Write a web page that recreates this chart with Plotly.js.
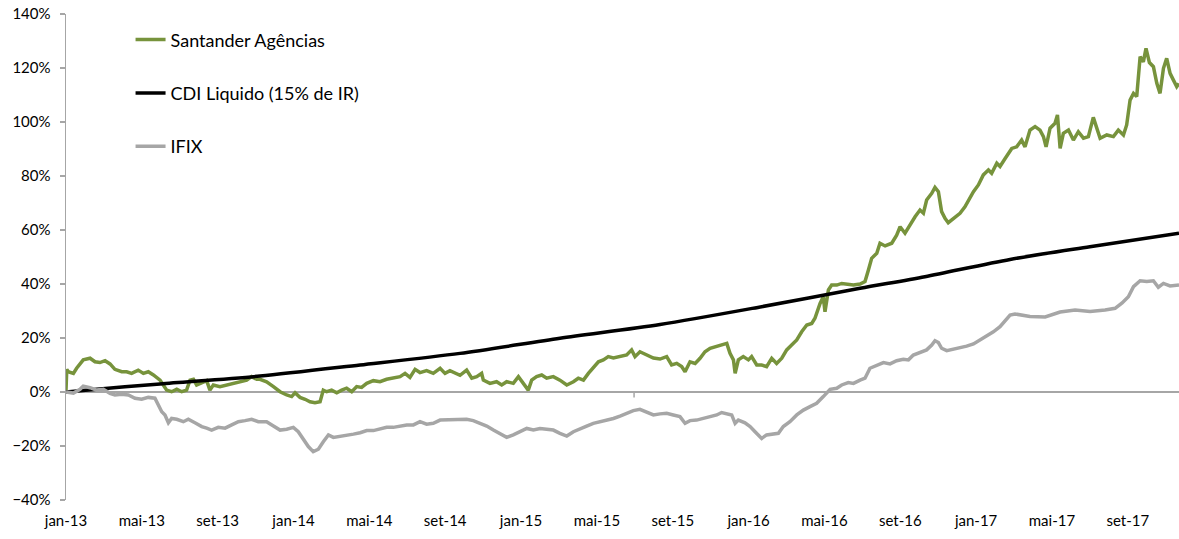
<!DOCTYPE html>
<html>
<head>
<meta charset="utf-8">
<script src="https://cdn.plot.ly/plotly-3.0.1.min.js"></script>
<style>html,body{margin:0;padding:0;background:#fff;}#chart{width:1179px;height:539px;}</style>
</head>
<body>
<div id="chart"></div>
<script>
// x = months elapsed since the start of jan-13
const tickMonths = [0,4,8,12,16,20,24,28,32,36,40,44,48,52,56];
const tickLabels = ['jan-13','mai-13','set-13','jan-14','mai-14','set-14','jan-15','mai-15','set-15','jan-16','mai-16','set-16','jan-17','mai-17','set-17'];

const santanderMonths = [0,0.04,0.12,0.39,0.56,0.91,1.27,1.53,1.79,2.06,2.32,2.58,2.94,3.20,3.46,3.81,4.08,4.34,4.61,4.96,5.13,5.31,5.57,5.84,6.10,6.36,6.54,6.72,6.89,7.16,7.42,7.59,7.77,8.12,8.47,8.83,9.18,9.53,9.79,10.06,
10.23,10.58,10.94,11.29,11.64,11.90,12.08,12.34,12.61,12.87,13.13,13.40,13.57,13.75,14.01,14.28,14.54,14.80,15.07,15.33,15.59,15.86,16.21,16.56,16.91,17.26,17.62,17.88,18.14,18.41,18.67,19.02,19.37,19.73,19.99,20.25,20.52,
20.78,21.13,21.40,21.66,21.92,22.01,22.36,22.71,22.98,23.24,23.59,23.86,24.12,24.38,24.56,24.82,25.09,25.35,25.70,26.05,26.41,26.76,27.02,27.29,27.55,27.81,28.08,28.34,28.60,28.87,29.22,29.57,29.83,30.01,30.27,30.63,30.98,
31.33,31.68,31.94,32.21,32.47,32.65,32.91,33.18,33.44,33.70,33.97,34.32,34.58,34.85,35.02,35.20,35.29,35.46,35.72,35.99,36.16,36.43,36.69,36.95,37.22,37.48,37.75,38.01,38.27,38.54,38.80,39.07,39.33,39.50,39.77,39.94,40.03,40.21,40.38,40.65,40.91,41.17,41.53,
41.88,42.14,42.32,42.49,42.76,42.93,43.20,43.55,43.81,43.99,44.25,44.51,44.78,45.04,45.22,45.39,45.66,45.83,46.01,46.18,46.36,46.53,46.80,47.15,47.41,47.59,47.86,48.12,48.38,48.65,48.82,49.09,
49.26,49.53,49.88,50.14,50.40,50.58,50.84,51.11,51.37,51.55,51.69,51.90,52.16,52.29,52.43,52.60,52.87,53.13,53.39,53.66,53.92,54.18,54.36,54.54,54.89,55.24,55.50,55.77,55.94,56.12,56.30,56.47,56.65,56.82,56.96,57.14,57.35,57.53,57.70,57.88,58.05,58.23,58.40,58.58,58.70];
const santanderValues = [0.5,8.4,7.5,6.9,8.8,11.9,12.5,11.2,10.9,11.6,10.4,8.4,7.5,7.5,6.9,8.1,6.9,7.5,6.3,4.4,2.6,0.7,0.1,1.0,0.1,0.7,4.4,4.7,2.6,3.5,4.2,0.7,2.6,2.0,2.6,3.5,3.8,4.4,5.7,4.7,
4.7,3.8,2.0,0.1,-1.1,-1.7,-0.3,-2.0,-2.7,-3.6,-4.0,-3.6,0.7,0.1,0.7,-0.3,0.7,1.4,0.1,2.0,1.7,3.2,4.2,3.8,4.7,5.1,5.7,6.9,5.4,8.4,7.2,7.9,6.9,8.8,6.9,7.9,6.9,
6.2,8.1,5.1,5.7,6.9,4.4,3.2,3.8,2.6,3.8,3.2,5.7,3.2,0.7,4.4,5.7,6.3,5.1,5.7,4.4,2.6,3.8,5.1,4.4,6.9,8.8,11.2,11.9,13.1,12.6,13.1,13.7,15.6,13.1,14.9,13.7,12.6,
12.2,13.1,10.0,10.6,9.4,7.5,11.2,10.6,12.5,14.9,16.2,16.8,17.4,18.0,14.3,11.9,6.9,11.9,13.1,11.9,13.1,10.0,10.0,9.4,12.5,10.6,12.5,15.6,17.4,19.3,22.3,24.8,25.4,27.3,32.8,35.3,29.7,37.8,39.6,39.6,40.2,40.0,39.6,
40.0,40.9,45.2,49.5,51.4,55.1,54.1,55.1,58.1,61.2,58.8,61.9,64.9,67.4,66.2,71.1,73.6,75.8,74.2,66.8,64.3,62.7,64.3,66.2,68.6,71.1,74.2,76.7,80.4,82.2,81.0,84.7,
83.5,86.5,90.2,90.8,93.3,90.8,97.0,98.3,97.0,94.6,90.8,97.7,99.5,102.6,90.2,95.8,97.0,93.3,96.4,94.0,94.6,101.7,98.3,94.0,95.2,94.6,97.0,95.2,98.9,108.1,110.6,109.4,124.2,122.3,127.3,122.0,120.5,114.3,110.6,119.9,123.6,118.0,115.6,113.1,114.3];

const cdiMonths = [0,0.74,4.96,10.23,15.51,20.78,26.05,31.33,36.69,41.88,45.30,49.79,54.00,58.70];
const cdiValues = [0,0.5,3.0,5.9,10.0,14.3,19.9,25.0,31.6,38.4,42.7,49.1,53.8,58.8];

const ifixMonths = [0,0.39,0.74,0.91,1.27,1.62,1.97,2.32,2.58,2.94,3.29,3.64,3.99,4.34,4.69,4.87,5.05,5.22,5.40,5.57,5.84,6.19,6.45,6.80,7.16,7.42,7.68,8.03,8.39,8.74,9.09,9.44,9.79,10.14,
10.58,10.94,11.29,11.64,11.99,12.25,12.52,12.78,13.04,13.31,13.57,13.84,14.10,14.45,14.80,15.16,15.51,15.86,16.21,16.56,16.91,17.26,17.62,17.97,18.32,18.67,19.02,19.37,19.73,20.08,20.43,20.78,
21.13,21.48,21.84,22.19,22.54,22.89,23.24,23.59,23.95,24.30,24.65,25.00,25.35,25.70,26.05,26.41,26.76,27.11,27.46,27.81,28.17,28.52,28.87,29.22,29.57,29.92,30.27,30.63,30.98,
31.33,31.68,32.03,32.38,32.65,32.91,33.26,33.62,33.97,34.32,34.58,34.85,35.11,35.29,35.46,35.81,36.08,36.34,36.69,36.95,37.30,37.57,37.83,38.18,38.54,38.89,39.24,39.59,39.94,40.30,40.65,40.91,41.26,41.53,41.88,
42.14,42.40,42.76,43.11,43.46,43.81,44.16,44.43,44.69,45.04,45.39,45.66,45.83,46.01,46.18,46.45,46.80,47.15,47.50,47.86,48.21,48.56,48.91,49.26,49.62,49.79,
50.05,50.84,51.64,52.43,53.22,54.01,54.80,55.33,55.70,56.03,56.30,56.65,57.00,57.35,57.61,57.88,58.23,58.70];
const ifixValues = [0,-0.4,1.0,2.2,1.6,0.7,1.0,-0.5,-1.1,-0.8,-1.1,-2.3,-2.7,-2.0,-2.3,-4.8,-7.3,-8.5,-11.4,-9.8,-10.1,-11.0,-10.1,-11.4,-12.8,-13.4,-14.1,-13.1,-13.4,-12.2,-11.0,-10.6,-10.1,-11.0,
-11.0,-12.6,-14.1,-13.8,-13.1,-14.7,-17.8,-20.2,-22.1,-21.2,-18.4,-15.9,-16.8,-16.5,-15.9,-15.6,-15.1,-14.3,-14.3,-13.8,-13.1,-13.1,-12.6,-12.2,-12.2,-11.0,-11.9,-11.6,-10.4,-10.4,-10.1,-10.4,
-10.1,-10.6,-11.6,-12.6,-14.1,-15.6,-16.8,-15.9,-14.7,-13.5,-14.1,-13.5,-13.8,-14.1,-15.3,-16.3,-14.7,-13.5,-12.6,-11.6,-11.0,-10.4,-9.8,-8.9,-7.9,-6.9,-6.4,-7.3,-8.5,
-8.1,-7.9,-8.5,-9.1,-11.6,-10.6,-10.4,-9.8,-9.1,-8.5,-7.6,-8.1,-8.5,-11.6,-10.4,-11.4,-12.8,-14.7,-17.2,-15.9,-15.6,-15.3,-12.8,-11.0,-8.5,-6.7,-5.4,-4.2,-1.7,1.0,1.4,2.6,3.5,3.2,4.4,
5.1,8.8,10.0,10.9,10.4,11.6,12.1,11.9,13.7,14.6,15.6,17.4,19.0,18.3,16.2,15.3,15.8,16.2,17.0,17.8,19.3,21.1,22.3,24.2,26.9,28.5,
28.9,28.0,27.8,29.6,30.4,29.8,30.4,31.0,33.0,35.3,39.0,41.2,40.9,41.2,38.8,40.2,39.3,39.6];

const seriesNames = ['Santander Agências','CDI Liquido (15% de IR)','IFIX'];
const seriesColors = ['#77933C','#000000','#A6A6A6'];

const FONT = 'Lato, "Open Sans", sans-serif';

const traces = [
  {x: santanderMonths, y: santanderValues, name: seriesNames[0], legendgroup: 'a', type: 'scatter', mode: 'lines', line: {color: seriesColors[0], width: 3.5}},
  {x: cdiMonths, y: cdiValues, name: seriesNames[1], legendgroup: 'b', type: 'scatter', mode: 'lines', line: {color: seriesColors[1], width: 3.5, shape: 'spline', smoothing: 0.8}},
  {x: ifixMonths, y: ifixValues, name: seriesNames[2], legendgroup: 'c', type: 'scatter', mode: 'lines', line: {color: seriesColors[2], width: 3.5}}
];

const layout = {
  width: 1179, height: 539,
  margin: {l: 66, r: 0, t: 14, b: 39},
  paper_bgcolor: '#ffffff', plot_bgcolor: '#ffffff',
  font: {family: FONT, size: 15, color: '#000000'},
  showlegend: true,
  legend: {x: 0.058, y: 0.985, xanchor: 'left', yanchor: 'top', bgcolor: 'rgba(0,0,0,0)',
           font: {family: FONT, size: 18, color: '#000'}, traceorder: 'grouped', tracegroupgap: 27},
  xaxis: {range: [0, 58.7], tickmode: 'array', tickvals: tickMonths, ticktext: tickLabels,
          showgrid: false, zeroline: false, showline: false, ticks: '', ticklabelstandoff: 10,
          tickfont: {family: FONT, size: 15}},
  yaxis: {range: [-40, 140], dtick: 20, tick0: 0, ticksuffix: '%', showgrid: false,
          zeroline: true, zerolinecolor: '#A6A6A6', zerolinewidth: 1.5,
          showline: true, linecolor: '#A6A6A6', linewidth: 1.5,
          ticks: 'outside', ticklen: 5, tickcolor: '#A6A6A6', tickwidth: 1.5, ticklabelstandoff: 6,
          tickfont: {family: FONT, size: 15}},
  shapes: [
    {type: 'line', xref: 'x', yref: 'y', x0: 29.96, x1: 29.96, y0: 0, y1: -2, line: {color: '#A6A6A6', width: 1.5}, layer: 'below'}
  ]
};

Plotly.newPlot('chart', traces, layout, {displayModeBar: false, staticPlot: true});
</script>
</body>
</html>
